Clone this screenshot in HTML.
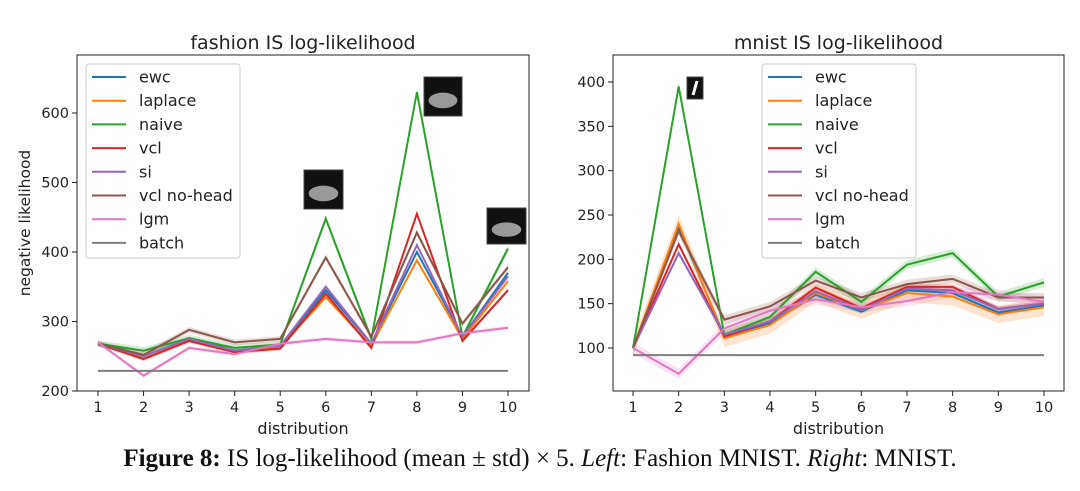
<!DOCTYPE html>
<html><head><meta charset="utf-8"><style>
body{margin:0;background:#fff;width:1080px;height:486px;overflow:hidden}
svg text{font-family:"DejaVu Sans","Liberation Sans",sans-serif;fill:#222}
.cap{position:absolute;left:0;top:445px;width:1080px;text-align:center;font-family:"Liberation Serif",serif;font-size:25px;color:#111;white-space:nowrap}
</style></head><body>
<svg id="s" width="1080" height="486"></svg>
<div class="cap"><b>Figure 8:</b> IS log-likelihood (mean ± std) × 5. <i>Left</i>: Fashion MNIST. <i>Right</i>: MNIST.</div>
<script>
const seriesNames=["ewc","laplace","naive","vcl","si","vcl no-head","lgm","batch"];
const colors=["#1f77b4","#ff7f0e","#2ca02c","#d62728","#9467bd","#8c564b","#e377c2","#7f7f7f"];
const xCats=[1,2,3,4,5,6,7,8,9,10];
const fashionEwc=[268,250,275,258,265,345,268,400,278,370];
const fashionLaplace=[268,250,273,257,263,335,265,388,275,358];
const fashionNaive=[268,258,276,262,267,448,275,630,278,405];
const fashionVcl=[268,246,272,256,261,340,262,455,272,345];
const fashionSi=[268,250,275,258,265,350,268,410,278,365];
const fashionVclNoHead=[268,252,288,270,275,392,278,428,297,378];
const fashionLgm=[270,222,262,253,268,275,270,270,283,291];
const fashionBatch=[229,229,229,229,229,229,229,229,229,229];
const fashionStd=[3,3,5,3,3,4,3,1];
const mnistEwc=[100,237,113,128,160,141,165,162,140,148];
const mnistLaplace=[100,240,111,126,162,143,162,158,138,146];
const mnistNaive=[100,395,115,135,186,152,194,207,158,174];
const mnistVcl=[100,217,113,130,168,145,169,169,144,150];
const mnistSi=[100,207,115,130,164,143,167,165,144,150];
const mnistVclNoHead=[100,232,132,147,176,157,172,178,157,157];
const mnistLgm=[100,71,122,142,155,146,153,163,160,152];
const mnistBatch=[92,92,92,92,92,92,92,92,92,92];
const mnistStd=[3,10,5,3,3,5,6,1];
const fashionTicks=[200,300,400,500,600];
const mnistTicks=[100,150,200,250,300,350,400];

const NS="http://www.w3.org/2000/svg";
const svg=document.getElementById('s');
function el(t,a,p){const e=document.createElementNS(NS,t);for(const k in a)e.setAttribute(k,a[k]);(p||svg).appendChild(e);return e;}

function chart(cfg){
  const g=el('g',{});
  
  
  const {L,R,T,B,x1,x10,yv0,yp0,yv1,yp1}=cfg;
  const X=i=>x1+(x10-x1)*(i-1)/9;
  const Y=v=>yp0+(v-yv0)*(yp1-yp0)/(yv1-yv0);
  const data=cfg.data;
  data.forEach((d,k)=>{
    const up=d.map((v,i)=>X(xCats[i])+','+Y(v+cfg.std[k])).join(' ');
    const dn=d.map((v,i)=>X(xCats[i])+','+Y(v-cfg.std[k])).reverse().join(' ');
    const b=el('polygon',{points:up+' '+dn,fill:colors[k],opacity:0.2},g);
    
    
  });
  data.forEach((d,k)=>{
    const l=el('polyline',{points:d.map((v,i)=>X(xCats[i])+','+Y(v)).join(' '),fill:'none',stroke:colors[k],'stroke-width':2},g);
    
    
  });
  cfg.imgs.forEach(im=>{
    const r=el('rect',{x:im[0],y:im[1],width:im[2],height:im[3],fill:'#111',stroke:'#444'},g);
    
    
    if(im[4]=='1'){el('line',{x1:im[0]+10,y1:im[1]+4,x2:im[0]+6,y2:im[1]+18,stroke:'#fff','stroke-width':3},g);}
    else el('ellipse',{cx:im[0]+im[2]/2,cy:im[1]+im[3]*0.6,rx:im[2]*0.38,ry:im[3]*0.2,fill:'#999'},g);
  });
  const f=el('rect',{x:L,y:T,width:R-L,height:B-T,fill:'none',stroke:'#222','stroke-width':1},g);
  
  
  xCats.forEach(c=>{
    el('line',{x1:X(c),x2:X(c),y1:B,y2:B+5,stroke:'#222'},g);
    const t=el('text',{x:X(c),y:B+21,'text-anchor':'middle','font-size':14.5},g);t.textContent=c;
    
    
  });
  cfg.ticks.forEach(v=>{
    el('line',{x1:L-5,x2:L,y1:Y(v),y2:Y(v),stroke:'#222'},g);
    const t=el('text',{x:L-8,y:Y(v)+5,'text-anchor':'end','font-size':14.5},g);t.textContent=v;
    
    
  });
  const ti=el('text',{x:(L+R)/2,y:49,'text-anchor':'middle','font-size':19},g);ti.textContent=cfg.title;
  
  
  const xl=el('text',{x:(L+R)/2,y:434,'text-anchor':'middle','font-size':16},g);xl.textContent='distribution';
  
  
  if(cfg.ylabel){const yl=el('text',{x:0,y:0,'text-anchor':'middle','font-size':15.5,transform:`translate(30,${(T+B)/2}) rotate(-90)`},g);yl.textContent='negative likelihood';
    
    }
  const lg=el('g',{},g);
  
  
  el('rect',{x:cfg.lx,y:64,width:154,height:194,rx:3,fill:'#fff','fill-opacity':0.85,stroke:'#ccc'},lg);
  seriesNames.forEach((n,k)=>{
    const yy=77+k*23.7;
    el('line',{x1:cfg.lx+6,x2:cfg.lx+40,y1:yy,y2:yy,stroke:colors[k],'stroke-width':2},lg);
    const t=el('text',{x:cfg.lx+53,y:yy+5.5,'font-size':16},lg);t.textContent=n;
    
    
  });
}
chart({name:'fashion-chart',L:77,R:529,T:55,B:391,x1:98,x10:508,yv0:200,yp0:391,yv1:600,yp1:113,ticks:fashionTicks,title:'fashion IS log-likelihood',ylabel:true,lx:86,
  data:[fashionEwc,fashionLaplace,fashionNaive,fashionVcl,fashionSi,fashionVclNoHead,fashionLgm,fashionBatch],std:fashionStd,
  imgs:[[304,170,39,39],[424,77,38,39],[487,208,39,36]]});
chart({name:'mnist-chart',L:613,R:1064,T:55,B:391,x1:633,x10:1044,yv0:100,yp0:348,yv1:400,yp1:82,ticks:mnistTicks,title:'mnist IS log-likelihood',ylabel:false,lx:762,
  data:[mnistEwc,mnistLaplace,mnistNaive,mnistVcl,mnistSi,mnistVclNoHead,mnistLgm,mnistBatch],std:mnistStd,
  imgs:[[687,77,16,22,'1']]});
</script>
</body></html>
